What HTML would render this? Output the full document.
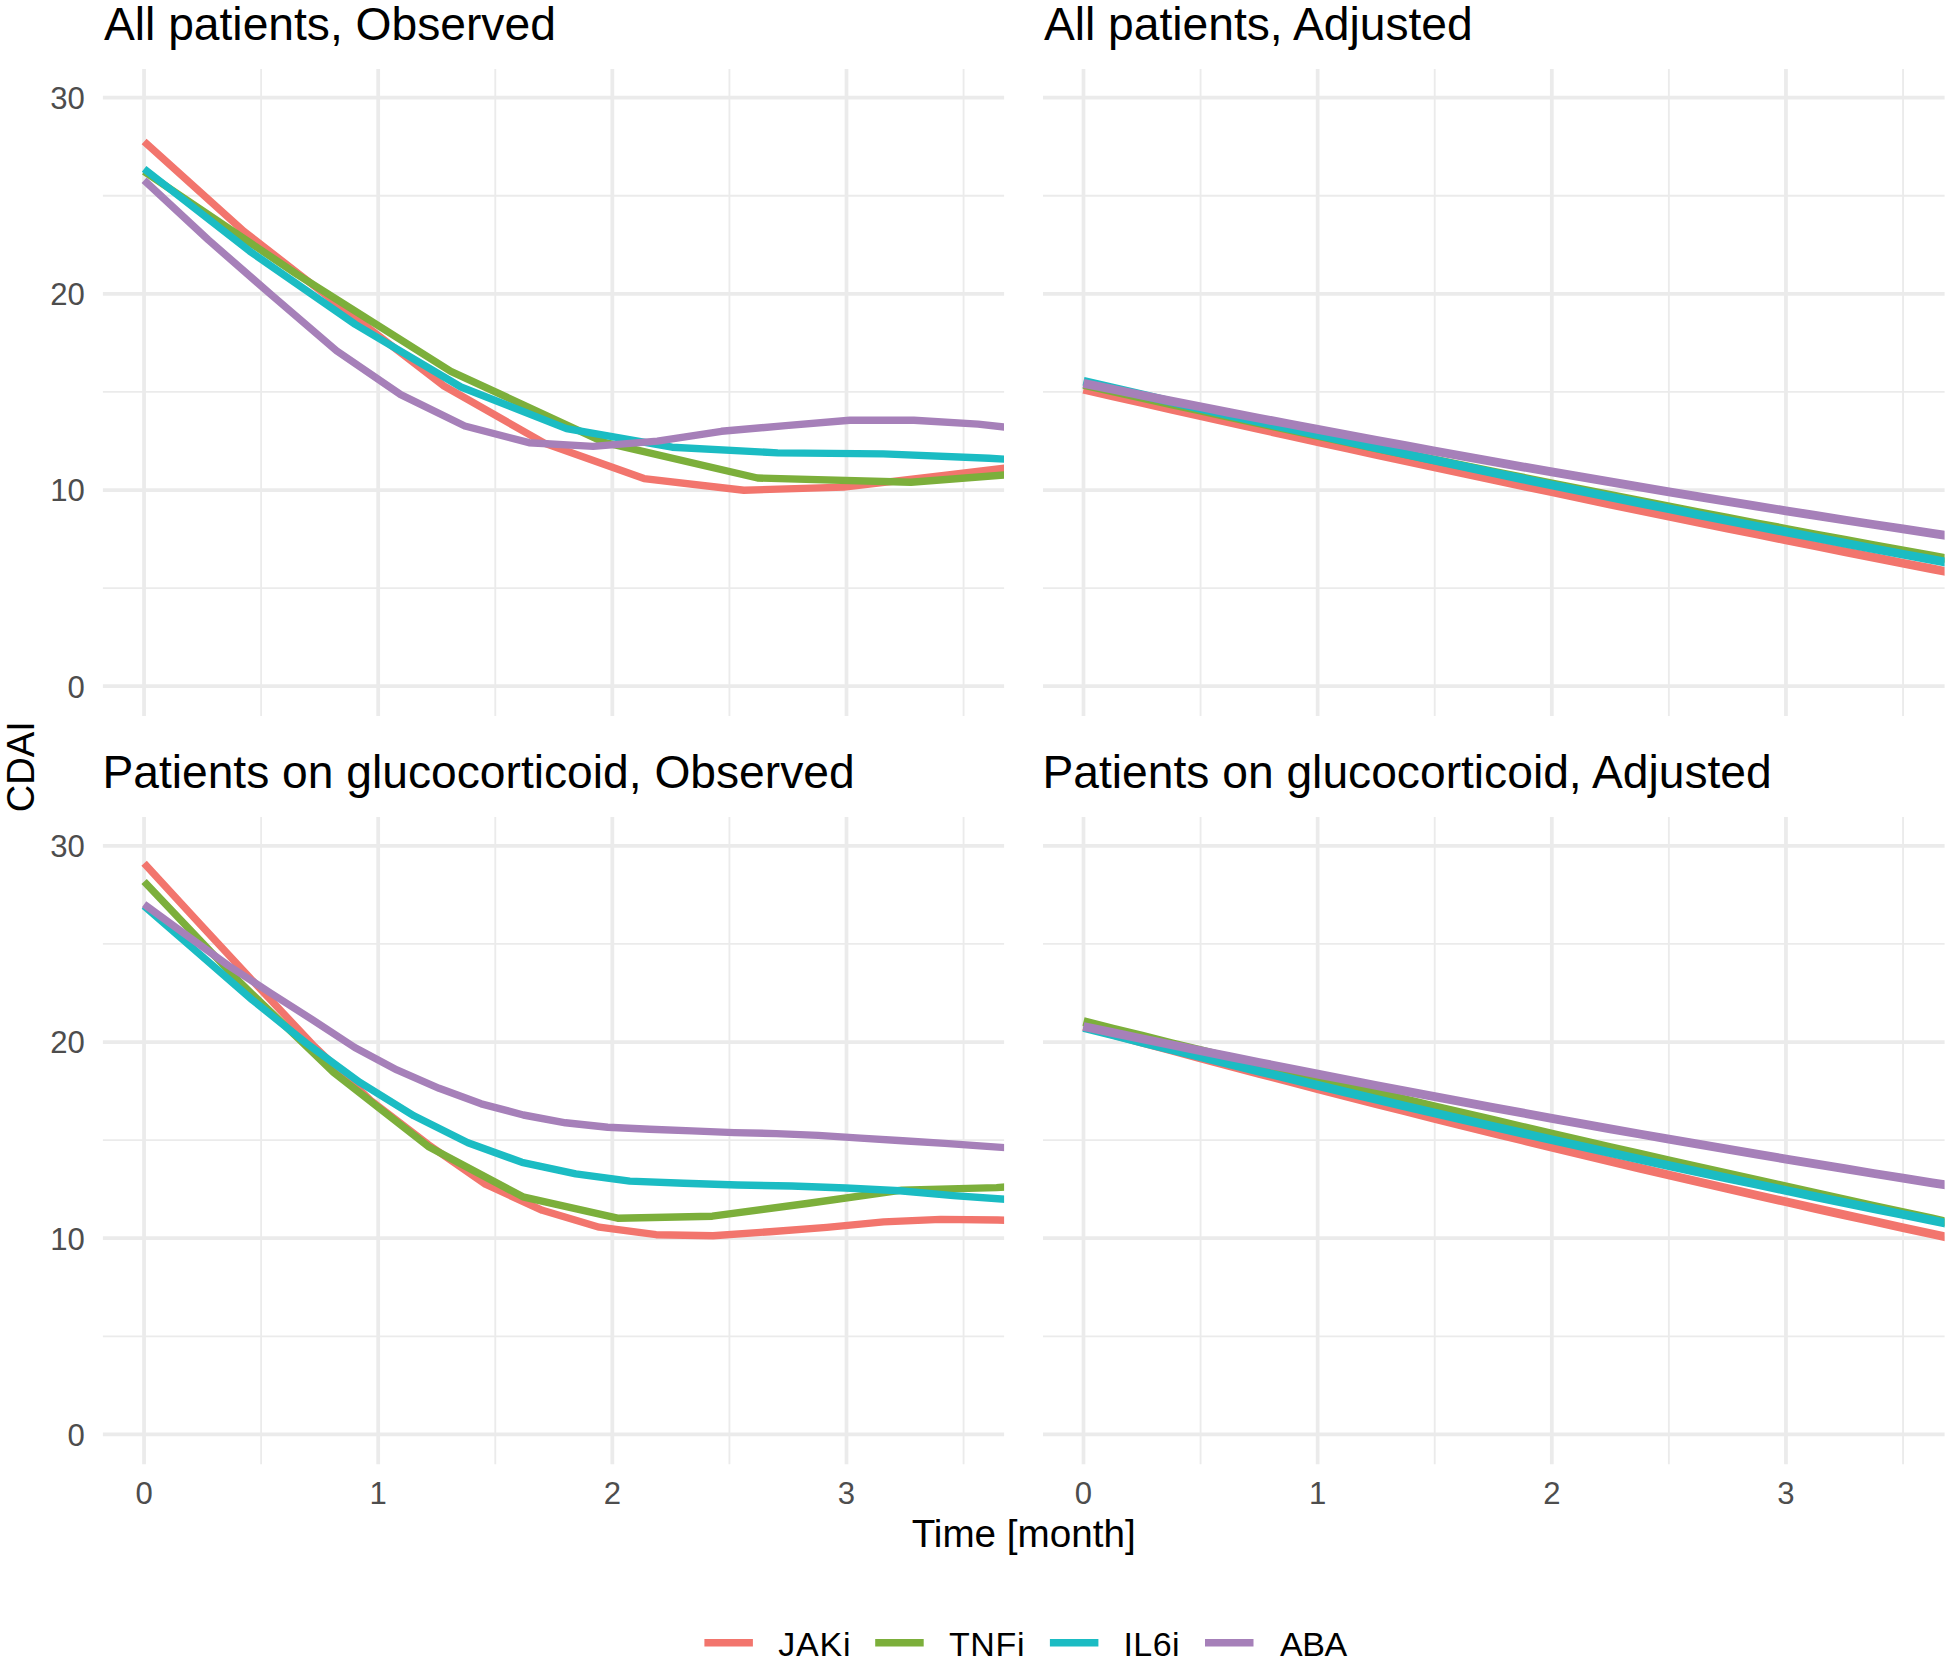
<!DOCTYPE html>
<html lang="en"><head><meta charset="utf-8"><title>CDAI over time</title>
<style>html,body{margin:0;padding:0;background:#fff}svg{display:block}text{font-family:"Liberation Sans",sans-serif}</style></head><body>
<svg width="1950" height="1663" viewBox="0 0 1950 1663">
<rect width="1950" height="1663" fill="#fff"/>
<defs>
<clipPath id="cp1"><rect x="102.9" y="68.9" width="901.20" height="647.20"/></clipPath>
<clipPath id="cp2"><rect x="1043.0" y="68.9" width="901.60" height="647.20"/></clipPath>
<clipPath id="cp3"><rect x="102.9" y="816.9" width="901.20" height="647.40"/></clipPath>
<clipPath id="cp4"><rect x="1043.0" y="816.9" width="901.60" height="647.40"/></clipPath>
</defs>
<g id="p1">
<g stroke="#EBEBEB" stroke-width="1.85" fill="none">
<line x1="102.9" x2="1004.1" y1="588.10" y2="588.10"/>
<line x1="102.9" x2="1004.1" y1="391.90" y2="391.90"/>
<line x1="102.9" x2="1004.1" y1="195.70" y2="195.70"/>
<line x1="261.12" x2="261.12" y1="68.9" y2="716.1"/>
<line x1="495.28" x2="495.28" y1="68.9" y2="716.1"/>
<line x1="729.42" x2="729.42" y1="68.9" y2="716.1"/>
<line x1="963.58" x2="963.58" y1="68.9" y2="716.1"/>
</g>
<g stroke="#EBEBEB" stroke-width="3.75" fill="none">
<line x1="102.9" x2="1004.1" y1="686.20" y2="686.20"/>
<line x1="102.9" x2="1004.1" y1="490.00" y2="490.00"/>
<line x1="102.9" x2="1004.1" y1="293.80" y2="293.80"/>
<line x1="102.9" x2="1004.1" y1="97.60" y2="97.60"/>
<line x1="144.05" x2="144.05" y1="68.9" y2="716.1"/>
<line x1="378.20" x2="378.20" y1="68.9" y2="716.1"/>
<line x1="612.35" x2="612.35" y1="68.9" y2="716.1"/>
<line x1="846.50" x2="846.50" y1="68.9" y2="716.1"/>
</g>
<g clip-path="url(#cp1)" fill="none" stroke-width="7.4" stroke-linejoin="round" stroke-linecap="butt">
<polyline stroke="#F2756D" points="144.1,141.4 244.0,231.4 344.0,309.1 444.0,386.0 544.0,442.9 644.0,478.6 743.9,490.2 843.9,487.1 943.9,475.3 1043.9,463.5"/>
<polyline stroke="#7CAF3B" points="144.1,171.4 297.4,274.6 450.8,371.3 604.2,442.3 757.5,478.0 910.9,482.2 1064.3,470.4"/>
<polyline stroke="#1BBCC3" points="144.1,168.8 249.7,251.2 355.3,324.4 460.9,387.0 566.5,428.6 672.1,447.2 777.7,452.9 883.3,453.9 988.9,458.2 1094.5,464.5"/>
<polyline stroke="#A680B9" points="144.1,180.2 208.2,239.8 272.4,295.8 336.5,350.7 400.7,394.6 464.8,426.0 529.0,442.7 593.1,446.4 657.3,441.1 721.5,431.3 785.6,425.6 849.8,420.2 913.9,420.2 978.1,424.1 1042.2,431.5"/>
</g>
<text x="104.0" y="39.6" font-size="46.2" fill="#000">All patients, Observed</text>
</g>
<g id="p2">
<g stroke="#EBEBEB" stroke-width="1.85" fill="none">
<line x1="1043.0" x2="1944.6" y1="588.10" y2="588.10"/>
<line x1="1043.0" x2="1944.6" y1="391.90" y2="391.90"/>
<line x1="1043.0" x2="1944.6" y1="195.70" y2="195.70"/>
<line x1="1200.58" x2="1200.58" y1="68.9" y2="716.1"/>
<line x1="1434.72" x2="1434.72" y1="68.9" y2="716.1"/>
<line x1="1668.88" x2="1668.88" y1="68.9" y2="716.1"/>
<line x1="1903.03" x2="1903.03" y1="68.9" y2="716.1"/>
</g>
<g stroke="#EBEBEB" stroke-width="3.75" fill="none">
<line x1="1043.0" x2="1944.6" y1="686.20" y2="686.20"/>
<line x1="1043.0" x2="1944.6" y1="490.00" y2="490.00"/>
<line x1="1043.0" x2="1944.6" y1="293.80" y2="293.80"/>
<line x1="1043.0" x2="1944.6" y1="97.60" y2="97.60"/>
<line x1="1083.50" x2="1083.50" y1="68.9" y2="716.1"/>
<line x1="1317.65" x2="1317.65" y1="68.9" y2="716.1"/>
<line x1="1551.80" x2="1551.80" y1="68.9" y2="716.1"/>
<line x1="1785.95" x2="1785.95" y1="68.9" y2="716.1"/>
</g>
<g clip-path="url(#cp2)" fill="none" stroke-width="8.8" stroke-linejoin="round" stroke-linecap="butt">
<polyline stroke="#F2756D" points="1083.5,389.2 1112.8,395.9 1142.0,402.5 1171.3,409.1 1200.6,415.7 1229.8,422.2 1259.1,428.7 1288.4,435.2 1317.7,441.6 1346.9,448.0 1376.2,454.4 1405.5,460.7 1434.7,467.0 1464.0,473.3 1493.3,479.5 1522.5,485.7 1551.8,491.8 1581.1,498.0 1610.3,504.1 1639.6,510.1 1668.9,516.2 1698.1,522.2 1727.4,528.1 1756.7,534.0 1786.0,539.9 1815.2,545.8 1844.5,551.6 1873.8,557.4 1903.0,563.2 1932.3,568.9 1961.6,574.6"/>
<polyline stroke="#7CAF3B" points="1083.5,384.4 1112.8,390.9 1142.0,397.4 1171.3,403.9 1200.6,410.3 1229.8,416.7 1259.1,423.0 1288.4,429.3 1317.7,435.5 1346.9,441.7 1376.2,447.9 1405.5,454.0 1434.7,460.0 1464.0,466.0 1493.3,472.0 1522.5,477.9 1551.8,483.8 1581.1,489.6 1610.3,495.4 1639.6,501.1 1668.9,506.8 1698.1,512.5 1727.4,518.1 1756.7,523.7 1786.0,529.2 1815.2,534.7 1844.5,540.1 1873.8,545.5 1903.0,550.8 1932.3,556.1 1961.6,561.4"/>
<polyline stroke="#1BBCC3" points="1083.5,381.3 1112.8,388.1 1142.0,394.9 1171.3,401.7 1200.6,408.4 1229.8,415.1 1259.1,421.7 1288.4,428.2 1317.7,434.7 1346.9,441.2 1376.2,447.6 1405.5,454.0 1434.7,460.3 1464.0,466.5 1493.3,472.7 1522.5,478.9 1551.8,485.0 1581.1,491.0 1610.3,497.0 1639.6,502.9 1668.9,508.8 1698.1,514.7 1727.4,520.5 1756.7,526.2 1786.0,531.9 1815.2,537.5 1844.5,543.1 1873.8,548.7 1903.0,554.2 1932.3,559.6 1961.6,565.0"/>
<polyline stroke="#A680B9" points="1083.5,383.4 1112.8,389.3 1142.0,395.2 1171.3,401.1 1200.6,406.8 1229.8,412.6 1259.1,418.2 1288.4,423.8 1317.7,429.4 1346.9,434.9 1376.2,440.4 1405.5,445.7 1434.7,451.1 1464.0,456.4 1493.3,461.6 1522.5,466.8 1551.8,471.9 1581.1,476.9 1610.3,481.9 1639.6,486.9 1668.9,491.8 1698.1,496.6 1727.4,501.4 1756.7,506.1 1786.0,510.8 1815.2,515.4 1844.5,520.0 1873.8,524.5 1903.0,528.9 1932.3,533.3 1961.6,537.7"/>
</g>
<text x="1043.9" y="39.6" font-size="46.2" fill="#000">All patients, Adjusted</text>
</g>
<g id="p3">
<g stroke="#EBEBEB" stroke-width="1.85" fill="none">
<line x1="102.9" x2="1004.1" y1="1336.30" y2="1336.30"/>
<line x1="102.9" x2="1004.1" y1="1140.10" y2="1140.10"/>
<line x1="102.9" x2="1004.1" y1="943.90" y2="943.90"/>
<line x1="261.12" x2="261.12" y1="816.9" y2="1464.3"/>
<line x1="495.28" x2="495.28" y1="816.9" y2="1464.3"/>
<line x1="729.42" x2="729.42" y1="816.9" y2="1464.3"/>
<line x1="963.58" x2="963.58" y1="816.9" y2="1464.3"/>
</g>
<g stroke="#EBEBEB" stroke-width="3.75" fill="none">
<line x1="102.9" x2="1004.1" y1="1434.40" y2="1434.40"/>
<line x1="102.9" x2="1004.1" y1="1238.20" y2="1238.20"/>
<line x1="102.9" x2="1004.1" y1="1042.00" y2="1042.00"/>
<line x1="102.9" x2="1004.1" y1="845.80" y2="845.80"/>
<line x1="144.05" x2="144.05" y1="816.9" y2="1464.3"/>
<line x1="378.20" x2="378.20" y1="816.9" y2="1464.3"/>
<line x1="612.35" x2="612.35" y1="816.9" y2="1464.3"/>
<line x1="846.50" x2="846.50" y1="816.9" y2="1464.3"/>
</g>
<g clip-path="url(#cp3)" fill="none" stroke-width="7.4" stroke-linejoin="round" stroke-linecap="butt">
<polyline stroke="#F2756D" points="144.1,863.3 200.9,924.9 257.8,986.3 314.7,1046.7 371.6,1101.3 428.5,1144.8 485.4,1184.2 542.3,1210.3 599.2,1227.2 656.1,1234.7 713.0,1235.8 769.9,1231.7 826.8,1227.4 883.7,1221.9 940.6,1219.4 997.5,1220.0 1054.4,1221.5"/>
<polyline stroke="#7CAF3B" points="144.1,881.5 238.8,981.2 333.5,1072.4 428.2,1146.4 522.9,1196.8 617.6,1218.2 712.3,1216.2 807.0,1203.5 901.8,1190.1 996.5,1187.6 1091.2,1181.3"/>
<polyline stroke="#1BBCC3" points="144.1,906.0 198.0,952.7 252.0,999.6 306.0,1043.0 359.9,1082.4 413.9,1115.8 467.9,1142.7 521.9,1162.3 575.8,1173.8 629.8,1181.1 683.8,1183.3 737.7,1185.0 791.7,1186.0 845.7,1188.0 899.7,1190.7 953.6,1195.6 1007.6,1199.4 1061.6,1202.9"/>
<polyline stroke="#A680B9" points="144.1,904.3 186.2,935.1 228.3,965.5 270.5,993.0 312.6,1019.8 354.8,1047.5 396.9,1069.9 439.1,1088.3 481.2,1103.8 523.4,1115.0 565.5,1122.8 607.7,1127.3 649.8,1129.3 692.0,1130.9 734.1,1132.6 776.3,1133.6 818.4,1135.4 860.5,1138.1 902.7,1140.7 944.8,1143.4 987.0,1146.4 1029.1,1149.3"/>
</g>
<text x="102.4" y="787.7" font-size="46.2" fill="#000">Patients on glucocorticoid, Observed</text>
</g>
<g id="p4">
<g stroke="#EBEBEB" stroke-width="1.85" fill="none">
<line x1="1043.0" x2="1944.6" y1="1336.30" y2="1336.30"/>
<line x1="1043.0" x2="1944.6" y1="1140.10" y2="1140.10"/>
<line x1="1043.0" x2="1944.6" y1="943.90" y2="943.90"/>
<line x1="1200.58" x2="1200.58" y1="816.9" y2="1464.3"/>
<line x1="1434.72" x2="1434.72" y1="816.9" y2="1464.3"/>
<line x1="1668.88" x2="1668.88" y1="816.9" y2="1464.3"/>
<line x1="1903.03" x2="1903.03" y1="816.9" y2="1464.3"/>
</g>
<g stroke="#EBEBEB" stroke-width="3.75" fill="none">
<line x1="1043.0" x2="1944.6" y1="1434.40" y2="1434.40"/>
<line x1="1043.0" x2="1944.6" y1="1238.20" y2="1238.20"/>
<line x1="1043.0" x2="1944.6" y1="1042.00" y2="1042.00"/>
<line x1="1043.0" x2="1944.6" y1="845.80" y2="845.80"/>
<line x1="1083.50" x2="1083.50" y1="816.9" y2="1464.3"/>
<line x1="1317.65" x2="1317.65" y1="816.9" y2="1464.3"/>
<line x1="1551.80" x2="1551.80" y1="816.9" y2="1464.3"/>
<line x1="1785.95" x2="1785.95" y1="816.9" y2="1464.3"/>
</g>
<g clip-path="url(#cp4)" fill="none" stroke-width="8.8" stroke-linejoin="round" stroke-linecap="butt">
<polyline stroke="#F2756D" points="1083.5,1026.3 1112.8,1034.3 1142.0,1042.2 1171.3,1050.1 1200.6,1057.9 1229.8,1065.7 1259.1,1073.4 1288.4,1081.1 1317.7,1088.7 1346.9,1096.2 1376.2,1103.7 1405.5,1111.1 1434.7,1118.4 1464.0,1125.7 1493.3,1132.9 1522.5,1140.1 1551.8,1147.2 1581.1,1154.2 1610.3,1161.2 1639.6,1168.1 1668.9,1175.0 1698.1,1181.8 1727.4,1188.5 1756.7,1195.2 1786.0,1201.8 1815.2,1208.4 1844.5,1214.9 1873.8,1221.3 1903.0,1227.7 1932.3,1234.0 1961.6,1240.3"/>
<polyline stroke="#7CAF3B" points="1083.5,1021.6 1112.8,1028.9 1142.0,1036.1 1171.3,1043.4 1200.6,1050.5 1229.8,1057.7 1259.1,1064.8 1288.4,1071.9 1317.7,1078.9 1346.9,1085.9 1376.2,1092.9 1405.5,1099.8 1434.7,1106.7 1464.0,1113.6 1493.3,1120.4 1522.5,1127.2 1551.8,1134.0 1581.1,1140.8 1610.3,1147.5 1639.6,1154.1 1668.9,1160.8 1698.1,1167.3 1727.4,1173.9 1756.7,1180.4 1786.0,1186.9 1815.2,1193.4 1844.5,1199.8 1873.8,1206.2 1903.0,1212.6 1932.3,1218.9 1961.6,1225.2"/>
<polyline stroke="#1BBCC3" points="1083.5,1027.4 1112.8,1034.8 1142.0,1042.2 1171.3,1049.6 1200.6,1056.8 1229.8,1064.1 1259.1,1071.2 1288.4,1078.3 1317.7,1085.4 1346.9,1092.4 1376.2,1099.3 1405.5,1106.2 1434.7,1113.0 1464.0,1119.8 1493.3,1126.5 1522.5,1133.1 1551.8,1139.7 1581.1,1146.3 1610.3,1152.8 1639.6,1159.2 1668.9,1165.6 1698.1,1171.9 1727.4,1178.1 1756.7,1184.3 1786.0,1190.5 1815.2,1196.6 1844.5,1202.6 1873.8,1208.6 1903.0,1214.5 1932.3,1220.4 1961.6,1226.2"/>
<polyline stroke="#A680B9" points="1083.5,1026.5 1112.8,1032.6 1142.0,1038.7 1171.3,1044.7 1200.6,1050.7 1229.8,1056.6 1259.1,1062.5 1288.4,1068.3 1317.7,1074.1 1346.9,1079.8 1376.2,1085.5 1405.5,1091.1 1434.7,1096.6 1464.0,1102.1 1493.3,1107.6 1522.5,1112.9 1551.8,1118.3 1581.1,1123.6 1610.3,1128.8 1639.6,1134.0 1668.9,1139.1 1698.1,1144.2 1727.4,1149.2 1756.7,1154.1 1786.0,1159.1 1815.2,1163.9 1844.5,1168.7 1873.8,1173.5 1903.0,1178.2 1932.3,1182.8 1961.6,1187.4"/>
</g>
<text x="1042.5" y="787.7" font-size="46.2" fill="#000">Patients on glucocorticoid, Adjusted</text>
</g>
<g font-size="31.1" fill="#4D4D4D">
<text x="84.8" y="697.50" text-anchor="end">0</text>
<text x="84.8" y="501.30" text-anchor="end">10</text>
<text x="84.8" y="305.10" text-anchor="end">20</text>
<text x="84.8" y="108.90" text-anchor="end">30</text>
<text x="84.8" y="1445.70" text-anchor="end">0</text>
<text x="84.8" y="1249.50" text-anchor="end">10</text>
<text x="84.8" y="1053.30" text-anchor="end">20</text>
<text x="84.8" y="857.10" text-anchor="end">30</text>
<text x="144.05" y="1504.1" text-anchor="middle">0</text>
<text x="378.20" y="1504.1" text-anchor="middle">1</text>
<text x="612.35" y="1504.1" text-anchor="middle">2</text>
<text x="846.50" y="1504.1" text-anchor="middle">3</text>
<text x="1083.50" y="1504.1" text-anchor="middle">0</text>
<text x="1317.65" y="1504.1" text-anchor="middle">1</text>
<text x="1551.80" y="1504.1" text-anchor="middle">2</text>
<text x="1785.95" y="1504.1" text-anchor="middle">3</text>
</g>
<text x="1023.7" y="1546.9" font-size="38.65" text-anchor="middle" fill="#000">Time [month]</text>
<text transform="translate(34.3,766.7) rotate(-90)" font-size="38.19" text-anchor="middle" fill="#000">CDAI</text>
<g stroke-width="7.4" fill="none">
<line x1="704.4" x2="752.9" y1="1642.8" y2="1642.8" stroke="#F2756D"/>
<line x1="875.2" x2="923.7" y1="1642.8" y2="1642.8" stroke="#7CAF3B"/>
<line x1="1049.9" x2="1098.4" y1="1642.8" y2="1642.8" stroke="#1BBCC3"/>
<line x1="1205.0" x2="1253.5" y1="1642.8" y2="1642.8" stroke="#A680B9"/>
</g>
<g font-size="34" fill="#000">
<text x="778.3" y="1655.5" letter-spacing="0.75">JAKi</text>
<text x="949.0" y="1655.5" letter-spacing="0.6">TNFi</text>
<text x="1123.4" y="1655.5" letter-spacing="0.45">IL6i</text>
<text x="1279.9" y="1655.5" letter-spacing="-0.4">ABA</text>
</g>
</svg></body></html>
